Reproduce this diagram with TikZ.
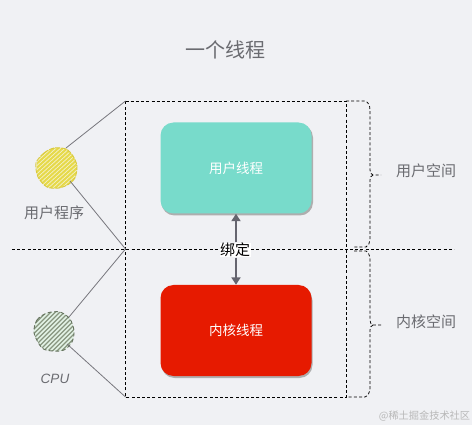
\documentclass[tikz,border=0pt]{standalone}
\usepackage{fontspec}
\setmainfont{Noto Sans CJK SC}
\newfontfamily\latinit[ItalicFont=Liberation Sans Italic]{Liberation Sans}
\usetikzlibrary{arrows.meta}
\definecolor{bgc}{HTML}{F0F1F4}
\definecolor{tealc}{HTML}{78DBCB}
\definecolor{redc}{HTML}{E61A00}
\definecolor{txtc}{HTML}{6A6B70}
\definecolor{linkc}{HTML}{77777D}
\definecolor{arrowc}{HTML}{65656F}
\definecolor{shadowc}{HTML}{AEAEAE}
\definecolor{yellowh}{HTML}{E6D94A}
\definecolor{yellowe}{HTML}{D9C93C}
\definecolor{greenh}{HTML}{87957F}
\definecolor{greene}{HTML}{66745F}
\tikzset{
  x=1pt,y=-1pt,
  dashline/.style={draw=black,line width=0.75pt,dash pattern=on 3pt off 2.2pt},
  linkline/.style={draw=linkc,line width=0.8pt},
  thread/.style={rounded corners=13pt,minimum width=151pt,minimum height=91pt,inner sep=0pt,text=white,font=\fontsize{13.5}{15}\selectfont},
  label/.style={text=txtc,inner sep=0pt,font=\fontsize{15}{17}\selectfont},
  boundpt/.style={minimum size=40pt,inner sep=0pt,circle},
  bindarrow/.style={draw=arrowc,line width=2pt,-{Triangle[length=7.5pt,width=9pt]}},
}
\begin{document}
\begin{tikzpicture}
\useasboundingbox (0,0) rectangle (472,425);
\fill[bgc] (0,0) rectangle (472,425);

\node[text=txtc,inner sep=0pt,font=\fontsize{20}{23}\selectfont] (title) at (225,50) {一个线程};

% hand-drawn discs
\node[boundpt] (app) at (56,168) {};
\node[boundpt] (cpu) at (54,331) {};
\begin{scope}
  \clip plot[smooth cycle] coordinates {(37,163)(44,153)(54,148)(66,149)(73,156)(77,166)(75,178)(69,184)(59,188)(47,187)(38,177)};
  \fill[yellow!18!bgc] (30,145) rectangle (80,190);
  \foreach \d in {-40,-35.5,...,45}
    \draw[draw=yellowh,line width=2pt] (56+\d-25,193) -- (56+\d+30,143);
\end{scope}
\draw[draw=yellowe,line width=0.9pt,dash pattern=on 5pt off 1.2pt]
  plot[smooth cycle] coordinates {(36,163)(44,153)(54,148)(66,149)(73,156)(77,166)(75,178)(69,184)(59,188)(47,187)(38,177)};
\begin{scope}
  \clip plot[smooth cycle] coordinates {(34,333)(37,320)(47,313)(60,312)(70,319)(74,331)(72,342)(64,350)(53,351)(42,348)};
  \fill[green!6!bgc] (30,305) rectangle (80,355);
  \foreach \d in {-40,-35.5,...,45}
    \draw[draw=greenh,line width=1.3pt] (54+\d-25,356) -- (54+\d+25,306);
\end{scope}
\draw[draw=greene,line width=0.9pt,dash pattern=on 4pt off 2.5pt]
  plot[smooth cycle] coordinates {(34,333)(37,320)(47,313)(60,312)(70,319)(74,331)(72,342)(64,350)(53,351)(42,348)};

% reference frame
\coordinate (tl) at (125.5,101);
\coordinate (tr) at (346,101);
\coordinate (bl) at (125.5,397);
\coordinate (br) at (346,397);
\coordinate (ml) at (12,249);
\coordinate (mr) at (454,249);
\coordinate (mc) at (125.5,249);
\draw[dashline] (tl) -- (tr) -- (br) -- (bl) -- cycle;
\draw[dashline] (ml) -- (mr);

% links
\draw[linkline] (66,148) -- (tl);
\draw[linkline] (70,181) -- (mc);
\draw[linkline] (69,317) -- (mc);
\draw[linkline] (67,344) -- (bl);

% thread boxes
\fill[shadowc,rounded corners=13pt] (161.5,124.5) rectangle (313,215.5);
\node[thread,fill=tealc] (user) at (236,168) {用户线程};
\fill[shadowc,rounded corners=13pt] (161.5,287.5) rectangle (312.5,378);
\node[thread,fill=redc] (kernel) at (236,330.5) {内核线程};

% binding
\node[fill=white,inner sep=0.5pt,font=\fontsize{15}{17}\selectfont] (bind) at (235,250) {绑定};
\draw[bindarrow] (bind.north -| user.south) -- (user.south);
\draw[bindarrow] (bind.south -| kernel.north) -- (kernel.north);

% labels
\node[label] (lapp) at (54,212.5) {用户程序};
\node[label,font=\latinit\itshape\fontsize{13.5}{15}\selectfont] (lcpu) at (55,378.5) {CPU};
\node[label] (luser) at (426,171) {用户空间};
\node[label] (lkern) at (426,321.5) {内核空间};
\node[text=black!28,inner sep=0pt,font=\fontsize{10.2}{12}\selectfont] (mark) at (424.5,416) {@稀土掘金技术社区};

% braces
\coordinate (b1) at (381,175);
\coordinate (b2) at (381,325);
\draw[dashline] (tr) -- (365,101) .. controls (368,102) and (370,105) .. (370,110) -- (370,170)
  .. controls (370,173) and (371,174) .. (373,175) -- (b1);
\draw[dashline] (373,175) .. controls (371,176) and (370,177) .. (370,181) -- (370,240)
  .. controls (370,243) and (368,246) .. (366,247) -- (354,247);
\draw[dashline] (354,251) -- (366,251) .. controls (368,252) and (370,255) .. (370,260) -- (370,320)
  .. controls (370,323) and (371,324) .. (373,325) -- (b2);
\draw[dashline] (373,325) .. controls (371,326) and (370,327) .. (370,331) -- (370,388)
  .. controls (370,392) and (368,396) .. (365,397) -- (br);
\end{tikzpicture}
\end{document}
